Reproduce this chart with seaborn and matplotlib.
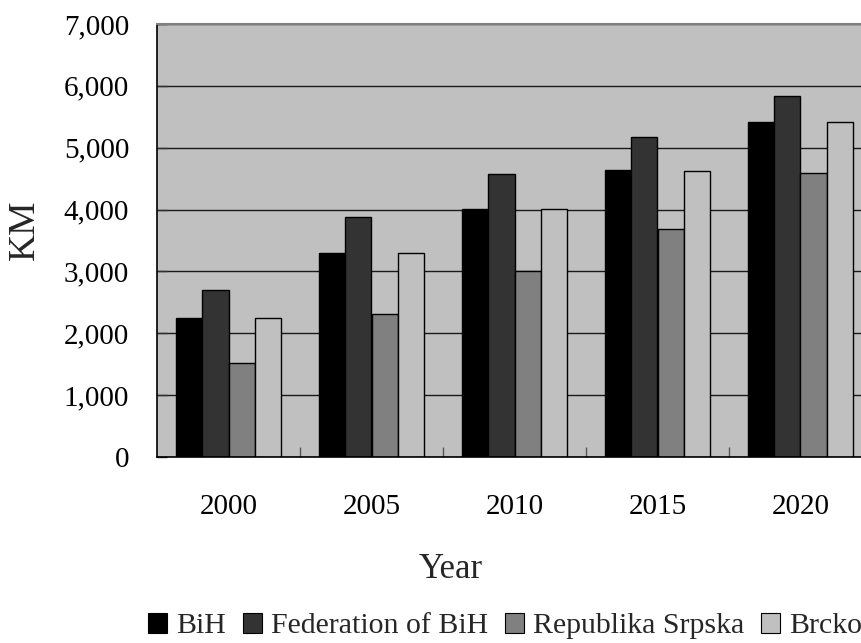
import matplotlib
matplotlib.use("Agg")
import matplotlib.pyplot as plt
from matplotlib.patches import Patch
from matplotlib.ticker import FuncFormatter, FixedLocator
import numpy as np
import pandas as pd
import seaborn as sns

# Average net wage by entity, KM
years = ["2000", "2005", "2010", "2015", "2020"]
regions = ["BiH", "Federation of BiH", "Republika Srpska", "Brcko"]
bih = [2255, 3290, 4010, 4640, 5420]
federation = [2695, 3885, 4575, 5170, 5840]
srpska = [1525, 2305, 3000, 3680, 4595]
brcko = [2250, 3290, 4005, 4630, 5410]

colors = ["#000000", "#333333", "#808080", "#C0C0C0"]

df = pd.DataFrame({
    "Year": years * 4,
    "KM": bih + federation + srpska + brcko,
    "Region": [r for r in regions for _ in years],
})

sns.set_theme(style="white")
plt.rcParams["font.family"] = ["Liberation Serif", "DejaVu Serif"]

fig = plt.figure(figsize=(8.61, 6.43), dpi=100)
W, H = 861, 643
ax = fig.add_axes([157 / W, 1 - 457 / H, 715 / W, 433 / H])
ax.set_facecolor("#C0C0C0")

sns.barplot(data=df, x="Year", y="KM", hue="Region", hue_order=regions,
            order=years, palette=colors, width=0.74, edgecolor="black",
            linewidth=1.0, errorbar=None, legend=False, ax=ax)

ax.set_ylim(0, 7000)
ax.set_xlim(-0.5, 4.5)
ax.set_yticks(np.arange(0, 7001, 1000))
ax.yaxis.set_major_formatter(FuncFormatter(lambda v, p: f"{v:,.0f}"))
ax.grid(axis="y", color="#1a1a1a", linewidth=1.0)
ax.grid(axis="x", visible=False)
ax.set_axisbelow(True)

ax.xaxis.set_minor_locator(FixedLocator([0.5, 1.5, 2.5, 3.5, 4.5]))
ax.tick_params(axis="x", which="major", length=0, pad=27, labelsize=21,
               colors="black")
ax.tick_params(axis="x", which="minor", direction="in", length=7,
               width=1, color="#555555", bottom=True)
ax.tick_params(axis="y", which="major", direction="in", length=7,
               width=1, color="#333333", pad=20, labelsize=21, left=True)
for lab in ax.get_xticklabels() + ax.get_yticklabels():
    lab.set_color("black")

ax.set_xlabel("")
ax.set_ylabel("")
for side in ("left", "bottom"):
    ax.spines[side].set_color("black")
    ax.spines[side].set_linewidth(1.2)
ax.spines["top"].set_color("#808080")
ax.spines["top"].set_linewidth(1.5)
ax.spines["right"].set_color("#808080")

fig.text(451 / W, 1 - 569.5 / H, "Year", fontsize=25, ha="center", va="center")
fig.text(24.5 / W, 1 - 230 / H, "KM", fontsize=27, rotation=90,
         ha="center", va="center")

handles = [Patch(facecolor=c, edgecolor="black", linewidth=0.8) for c in colors]
fig.legend(handles, regions, loc="center", bbox_to_anchor=(505 / W, 1 - 626 / H),
           ncol=4, frameon=False, fontsize=21.5, handlelength=0.65,
           handleheight=0.65, handletextpad=0.3, columnspacing=0.55,
           borderpad=0)

fig.savefig("out.png", dpi=100, facecolor="white")
